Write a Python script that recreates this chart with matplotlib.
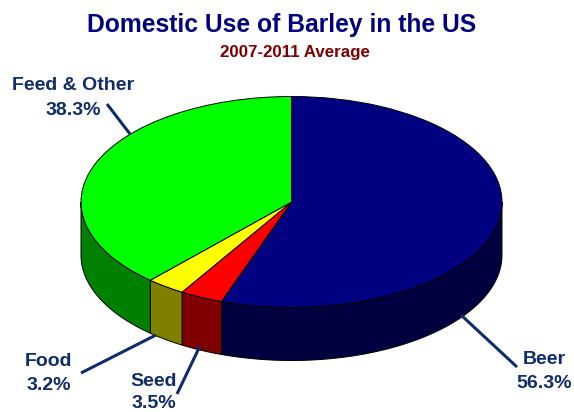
import numpy as np
import matplotlib
matplotlib.use("Agg")
from matplotlib import pyplot as plt

plt.rcParams['font.family'] = ['Liberation Sans', 'DejaVu Sans']

categories = ["Beer", "Seed", "Food", "Feed & Other"]
# percentages printed on the labels (they add up to 101.3)
printed = [56.3, 3.5, 3.2, 38.3]
# slice sizes
shares = [55.4, 3.3, 3.0, 38.3]
top_colors = ["#000080", "#FF0000", "#FFFF00", "#00FF00"]
side_colors = ["#000040", "#800000", "#808000", "#008000"]

label_color = "#0F2C6B"
W, H = 574, 412
cx, cy = 291.5, 202  # pie centre in pixels
rx, ry = 210.5, 105.5
depth = 53 / ry

fig = plt.figure(figsize=(W / 100, H / 100), dpi=100, facecolor="white")
ax = fig.add_axes([0, 0, 1, 1])

# top of the pie
ax.pie(shares, colors=top_colors, startangle=90, counterclock=False,
       wedgeprops={"edgecolor": "black", "linewidth": 0.7, "zorder": 3})
ax.set_aspect("auto")
ax.set_xlim((0 - cx) / rx, (W - cx) / rx)
ax.set_ylim((cy - H) / ry, cy / ry)
ax.axis("off")

# side wall, only the front half (90 to 270 deg clockwise from the top) shows
edges = np.cumsum([0] + shares) / sum(shares) * 360
for i in range(len(shares)):
    a = max(edges[i], 90)
    b = min(edges[i + 1], 270)
    if a >= b:
        continue
    t = np.radians(np.linspace(a, b, 80))
    x = np.sin(t)
    y = np.cos(t)
    ax.fill(np.r_[x, x[::-1]], np.r_[y, y[::-1] - depth],
            facecolor=side_colors[i], edgecolor="black", linewidth=0.7, zorder=2)

# overlay in pixel coordinates for the labels and leader lines
ov = fig.add_axes([0, 0, 1, 1], facecolor="none")
ov.set_xlim(0, W)
ov.set_ylim(H, 0)
ov.axis("off")

ov.text(281.5, 25, "Domestic Use of Barley in the US", color="#000080",
        fontsize=17.7, fontweight="bold", ha="center", va="center")
ov.text(295, 52, "2007-2011 Average", color="#800000",
        fontsize=12.2, fontweight="bold", ha="center", va="center")

lab = dict(color=label_color, fontsize=14, fontweight="bold", va="center", ha="center")
spots = [(544, 360, 383), (154, 382, 404), (48.5, 361, 386), (73, 85, 110)]
for name, value, (lx, y1, y2) in zip(categories, printed, spots):
    ov.text(lx, y1, name, **lab)
    ov.text(lx, y2, f"{value}%", **lab)

for xs, ys in [((107, 130), (104, 134)), ((81, 156), (373, 335)),
               ((177, 200), (394, 346)), ((461, 517), (315, 367))]:
    ov.plot(xs, ys, color=label_color, linewidth=2.2, solid_capstyle="butt")

fig.savefig("out.png", dpi=100)
